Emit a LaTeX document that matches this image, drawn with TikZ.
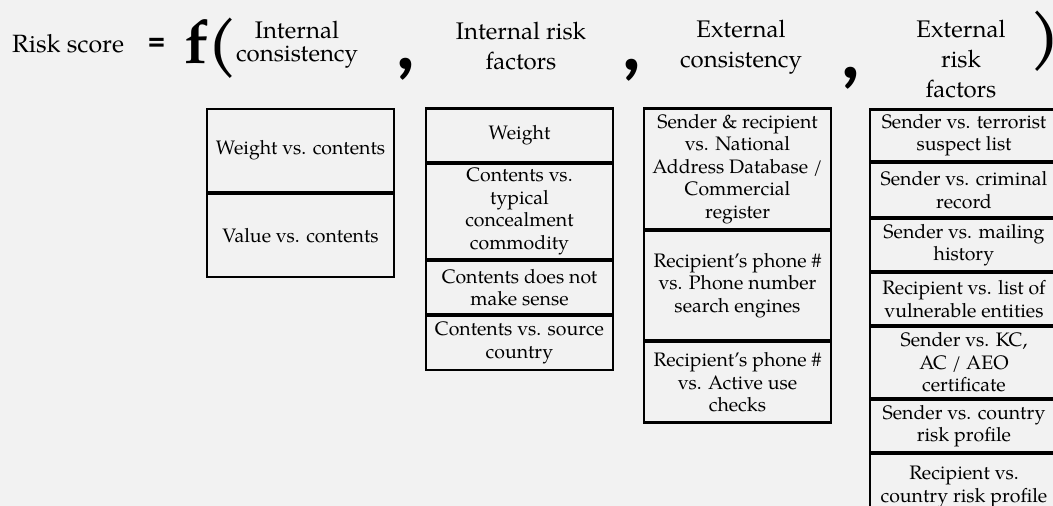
\documentclass[tikz,border=0pt]{standalone}
\usepackage{fontspec}
\setmainfont{TeX Gyre Pagella}
\newfontfamily\calfont{Carlito}
\definecolor{bg}{HTML}{F2F2F2}
\begin{document}
\begin{tikzpicture}[x=1pt,y=-1pt,
  box/.style={draw=black, line width=2.7pt, minimum width=187pt, inner sep=0pt, align=center,
    font=\fontsize{19.5}{22.5}\selectfont},
  boxr/.style={box, minimum width=188pt},
  head/.style={align=center, inner sep=0pt, font=\fontsize{24}{30}\selectfont},
  headtight/.style={align=center, inner sep=0pt, font=\fontsize{24}{23.5}\selectfont},
  comma/.style={inner sep=0pt, font=\calfont\bfseries\fontsize{80}{80}\selectfont},
  big/.style={inner sep=0pt, anchor=base west, font=\bfseries\fontsize{61}{61}\selectfont}]
\useasboundingbox (0,0) rectangle (1053,506);
\fill[bg] (0,0) rectangle (1053,506);
\clip (0,0) rectangle (1053,506);

% formula line
\node[anchor=base west, inner sep=0pt, font=\fontsize{25}{29}\selectfont] (risk) at (12,52) {Risk score};
\node[inner sep=0pt, font=\calfont\bfseries\fontsize{34}{34}\selectfont] (eq) at (156.5,46) {=};
\node[big] (f) at (184,63) {f(};
\node[big] (close) at (1030,56) {)};

\node[headtight] (h1) at (297,44.5) {Internal\\consistency};
\node[head] (h2) at (521,46) {Internal risk\\factors};
\node[head] (h3) at (741,47.5) {External\\consistency};
\node[head] (h4) at (961,59.5) {External\\risk\\factors};

\node[comma] (c1) at (406,69) {,};
\node[comma] (c2) at (632,70.5) {,};
\node[comma] (c3) at (851,78) {,};

% column 1
\node[box, minimum height=83pt] (a1) at (300.5,150.5) {Weight vs. contents};
\node[box, minimum height=83pt] (a2) at (300.5,235.5) {Value vs. contents};

% column 2
\node[box, minimum height=53.5pt] (b1) at (519.5,135.25) {Weight};
\node[box, minimum height=95pt] (b2) at (519.5,211.5) {Contents vs.\\typical\\concealment\\commodity};
\node[box, minimum height=53pt] (b3) at (519.5,287.5) {Contents does not\\make sense};
\node[box, minimum height=54pt] (b4) at (519.5,343) {Contents vs. source\\country};

% column 3
\node[box, minimum height=120.5pt] (e1) at (737.5,168.75) {Sender \& recipient\\vs. National\\Address Database /\\Commercial\\register};
\node[box, minimum height=109pt] (e2) at (737.5,285.5) {Recipient’s phone \#\\vs. Phone number\\search engines};
\node[box, minimum height=80.5pt] (e3) at (737.5,382.25) {Recipient’s phone \#\\vs. Active use\\checks};

% column 4
\node[boxr, minimum height=51.5pt] (d1) at (964,135.25) {Sender vs. terrorist\\suspect list};
\node[boxr, minimum height=54pt] (d2) at (964,190) {Sender vs. criminal\\record};
\node[boxr, minimum height=52pt] (d3) at (964,245) {Sender vs. mailing\\history};
\node[boxr, minimum height=52pt] (d4) at (964,299) {Recipient vs. list of\\vulnerable entities};
\node[boxr, minimum height=71pt] (d5) at (964,362.5) {Sender vs. KC,\\AC / AEO\\certificate};
\node[boxr, minimum height=52pt] (d6) at (964,426) {Sender vs. country\\risk profile};
\node[boxr, minimum height=66pt] (d7) at (964,487) {Recipient vs.\\country risk profile};
\end{tikzpicture}
\end{document}
